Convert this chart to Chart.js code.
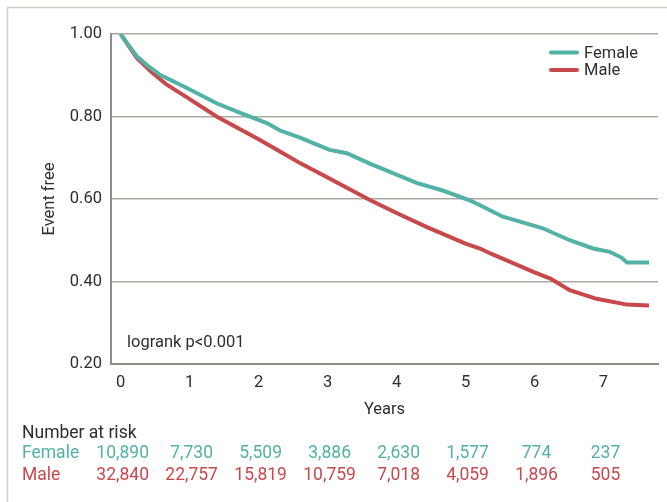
<!DOCTYPE html>
<html>
<head>
<meta charset="utf-8">
<script src="https://cdn.jsdelivr.net/npm/chart.js@4.4.1/dist/chart.umd.min.js"></script>
<style>
  html, body { margin: 0; padding: 0; background: #ffffff; }
  #wrap { width: 667px; height: 502px; position: relative; }
</style>
</head>
<body>
<div id="wrap"><canvas id="km" width="667" height="502"></canvas></div>
<script>
// Kaplan-Meier event-free survival by sex
const seriesNames = ['Female', 'Male'];

const femaleYears    = [0, 0.10, 0.235, 0.40, 0.57, 0.96, 1.39, 1.78, 2.12, 2.31, 2.60, 3.03, 3.28, 3.62, 4.00, 4.29, 4.68, 5.07, 5.21, 5.54, 5.79, 6.12, 6.51, 6.85, 7.09, 7.26, 7.34, 7.66];
const femaleSurvival = [1.000, 0.976, 0.946, 0.922, 0.901, 0.869, 0.832, 0.806, 0.784, 0.766, 0.749, 0.719, 0.711, 0.685, 0.659, 0.639, 0.620, 0.596, 0.585, 0.557, 0.545, 0.529, 0.500, 0.480, 0.472, 0.458, 0.446, 0.446];

const maleYears    = [0, 0.10, 0.235, 0.45, 0.67, 1.00, 1.39, 2.00, 2.31, 2.60, 3.00, 3.62, 4.00, 4.44, 5.00, 5.21, 5.36, 6.00, 6.23, 6.51, 6.90, 7.34, 7.66];
const maleSurvival = [1.000, 0.975, 0.942, 0.907, 0.877, 0.842, 0.800, 0.745, 0.715, 0.687, 0.652, 0.597, 0.566, 0.532, 0.492, 0.480, 0.468, 0.422, 0.407, 0.379, 0.358, 0.344, 0.342];

const yTicks = [0.20, 0.40, 0.60, 0.80, 1.00];
const xTicks = [0, 1, 2, 3, 4, 5, 6, 7];

const riskYears  = [0, 1, 2, 3, 4, 5, 6, 7];
const femaleRisk = [10890, 7730, 5509, 3886, 2630, 1577, 774, 237];
const maleRisk   = [32840, 22757, 15819, 10759, 7018, 4059, 1896, 505];

const pValueText = 'logrank p<0.001';

const TEAL = '#52b2a5';
const RED  = '#c9484b';
const TEXT = '#2e2e2e';
const FONT = 'Roboto, "Liberation Sans", sans-serif';

const toPoints = (xs, ys) => xs.map((x, i) => ({ x: x, y: ys[i] }));

const overlay = {
  id: 'overlay',
  beforeDraw(chart) {
    const ctx = chart.ctx;
    ctx.save();
    ctx.strokeStyle = '#cfcfc8';
    ctx.lineWidth = 1.5;
    ctx.beginPath();
    ctx.moveTo(7.5, 502);
    ctx.lineTo(7.5, 7.5);
    ctx.lineTo(667, 7.5);
    ctx.stroke();
    ctx.restore();
  },
  afterDraw(chart) {
    const ctx = chart.ctx;
    const xs = chart.scales.x;
    const area = chart.chartArea;
    ctx.save();
    ctx.textBaseline = 'middle';

    // legend
    ctx.font = '16.5px ' + FONT;
    chart.data.datasets.forEach((ds, i) => {
      const y = 52.5 + i * 17.5;
      ctx.strokeStyle = ds.borderColor;
      ctx.lineWidth = 4;
      ctx.lineCap = 'round';
      ctx.beginPath();
      ctx.moveTo(551, y);
      ctx.lineTo(577, y);
      ctx.stroke();
      ctx.fillStyle = TEXT;
      ctx.textAlign = 'left';
      ctx.fillText(ds.label, 584, y + 1);
    });

    // test statistic
    ctx.fillStyle = TEXT;
    ctx.textAlign = 'left';
    ctx.font = '16.5px ' + FONT;
    ctx.fillText(pValueText, area.left + 16, 343);

    // number at risk table
    ctx.font = '17.5px ' + FONT;
    ctx.fillText('Number at risk', 22, 434);
    const rows = [[femaleRisk, TEAL, seriesNames[0], 454], [maleRisk, RED, seriesNames[1], 476]];
    rows.forEach(([vals, col, name, y]) => {
      ctx.fillStyle = col;
      ctx.textAlign = 'left';
      ctx.fillText(name, 22, y);
      ctx.textAlign = 'center';
      vals.forEach((v, i) => {
        ctx.fillText(v.toLocaleString('en-US'), xs.getPixelForValue(riskYears[i]) + 2, y);
      });
    });
    ctx.restore();
  }
};

new Chart(document.getElementById('km'), {
  type: 'line',
  data: {
    datasets: [
      { label: seriesNames[0], data: toPoints(femaleYears, femaleSurvival), borderColor: TEAL, backgroundColor: TEAL, borderWidth: 4, pointRadius: 0, tension: 0, fill: false },
      { label: seriesNames[1], data: toPoints(maleYears, maleSurvival), borderColor: RED, backgroundColor: RED, borderWidth: 4, pointRadius: 0, tension: 0, fill: false }
    ]
  },
  options: {
    responsive: false,
    animation: false,
    devicePixelRatio: 1,
    layout: { padding: { left: 40, right: 9, top: 34, bottom: 82 } },
    plugins: { legend: { display: false }, tooltip: { enabled: false } },
    scales: {
      x: {
        type: 'linear',
        min: -0.14,
        max: 7.79,
        afterBuildTicks(scale) { scale.ticks = xTicks.map(v => ({ value: v })); },
        afterFit(scale) { scale.height = 56; },
        grid: { display: false, drawTicks: false },
        border: { display: true, color: '#8e8e86', width: 2 },
        ticks: { padding: 9, color: TEXT, font: { family: FONT, size: 16.5 }, callback: v => String(v), maxRotation: 0 },
        title: { display: true, text: 'Years', color: TEXT, font: { family: FONT, size: 16.5 }, padding: 0 }
      },
      y: {
        min: 0.2,
        max: 1.0,
        afterBuildTicks(scale) { scale.ticks = yTicks.map(v => ({ value: v })); },
        afterFit(scale) { scale.width = 71; },
        grid: { color: '#a9a9a2', lineWidth: 1.5, drawTicks: false },
        border: { display: true, color: '#8e8e86', width: 2 },
        ticks: { padding: 9, color: TEXT, font: { family: FONT, size: 16.5 }, callback: v => Number(v).toFixed(2) },
        title: { display: true, text: 'Event free', color: TEXT, font: { family: FONT, size: 16.5 }, padding: 0 }
      }
    }
  },
  plugins: [overlay]
});
</script>
</body>
</html>
